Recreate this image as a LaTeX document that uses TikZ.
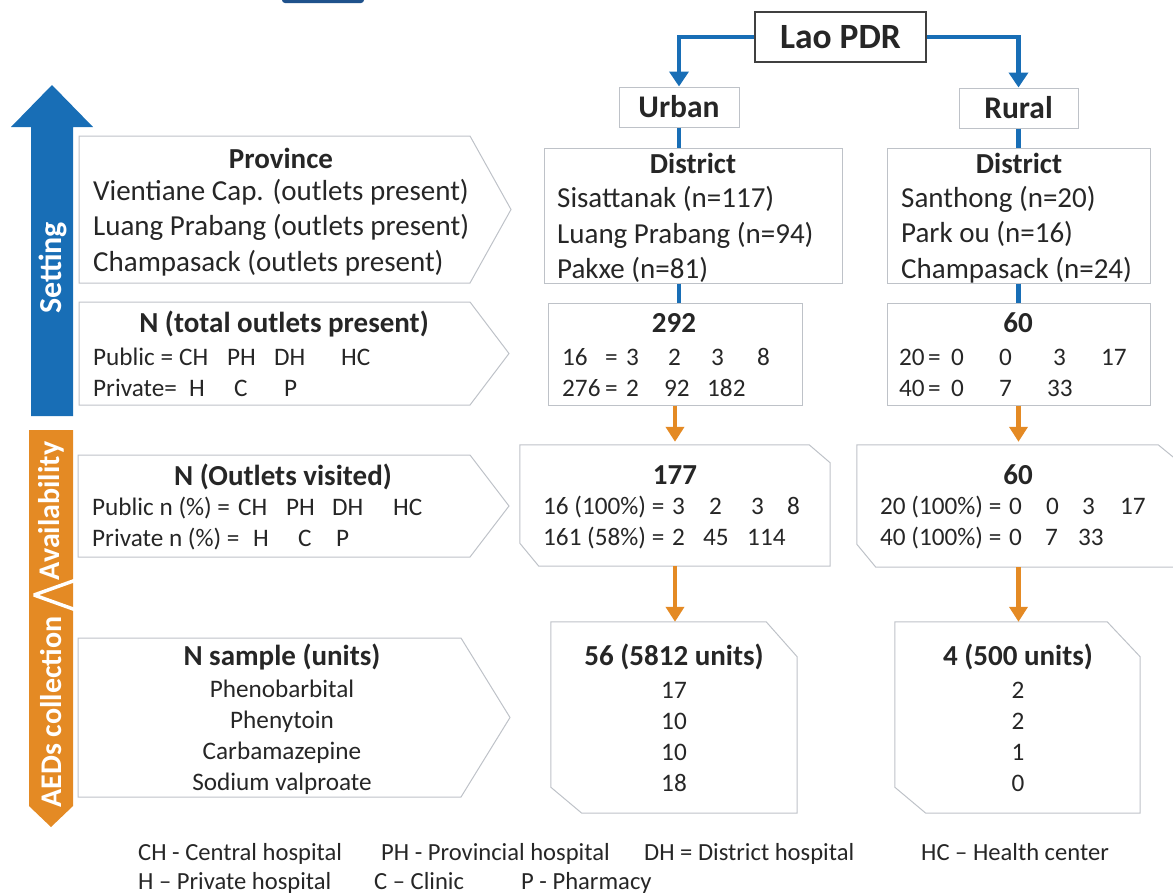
\documentclass[tikz,border=0pt]{standalone}
\usepackage{fontspec}
\setmainfont{Carlito}
\usepackage{tikz}
\usetikzlibrary{arrows.meta}
\usetikzlibrary{calc}

\definecolor{settingblue}{RGB}{24,110,182}
\definecolor{aedorange}{RGB}{228,138,36}
\definecolor{headblue}{RGB}{31,82,140}
\definecolor{boxgray}{RGB}{190,194,200}
\definecolor{txtgray}{RGB}{38,38,38}

% one column of a row of counts, #1 wide in pt
\newcommand{\colbox}[2]{\makebox[#1pt][l]{#2}}

\tikzset{
  rectbox/.style={draw=boxgray, line width=1pt, inner sep=0pt, text=txtgray},
  snipbox/.style={inner sep=0pt},
  outline/.style={draw=boxgray, line width=1pt},
  bluelink/.style={draw=settingblue, line width=4.5pt, -{Triangle[width=19pt,length=15pt]}},
  plainlink/.style={draw=settingblue, line width=4.5pt},
  orangelink/.style={draw=aedorange, line width=4.5pt, -{Triangle[width=18pt,length=15pt]}},
  headtxt/.style={font=\bfseries\fontsize{29}{34}\selectfont, text=txtgray, inner sep=0pt},
  bigtxt/.style={font=\fontsize{29}{35.5}\selectfont, text=txtgray, align=left, anchor=west, inner sep=0pt},
  smalltxt/.style={font=\fontsize{25.2}{31}\selectfont, text=txtgray, align=left, anchor=west, inner sep=0pt},
  listtxt/.style={font=\fontsize{25.2}{31}\selectfont, text=txtgray, align=center, inner sep=0pt},
  bartxt/.style={font=\bfseries\fontsize{30}{30}\selectfont, text=white, rotate=90, inner sep=0pt},
  foottxt/.style={font=\fontsize{24.6}{30}\selectfont, text=txtgray, anchor=base west, inner sep=0pt}
}

\begin{document}
\begin{tikzpicture}[x=1pt,y=-1pt]
\useasboundingbox (0,0) rectangle (1173,895);

% tab of the heading, cut at the top
\fill[headblue, rounded corners=3pt] (282,-12) rectangle (364,3);

% stage bars on the left
\fill[settingblue] (31,416) -- (31,127) -- (11,127) -- (52,85) -- (93,127)
  -- (73,127) -- (73,416) -- cycle;
\node[bartxt, font=\bfseries\fontsize{32}{32}\selectfont] (setting) at (53,268) {Setting};

\fill[aedorange] (29,430) -- (73,430) -- (73,806) -- (51,827) -- (29,806) -- cycle;
\draw[white, line width=3.5pt, line join=bevel] (76,580) -- (34,595) -- (76,610);
\node[bartxt] (avail) at (51,511) {Availability};
\node[bartxt] (aeds) at (51,712) {AEDs collection};

% pentagons of the left column
\draw[outline] (79,136) -- (470,136) -- (511,209.5) -- (470,283) -- (79,283) -- cycle;
\draw[outline] (79,302) -- (470,302) -- (509,353.5) -- (470,405) -- (79,405) -- cycle;
\draw[outline] (78,455) -- (470,455) -- (509,506) -- (470,557) -- (78,557) -- cycle;
\draw[outline] (78,638) -- (461,638) -- (510,717.5) -- (461,797) -- (78,797) -- cycle;

\node[headtxt] (province) at (281,158) {Province};
\node[bigtxt] (provlist) at (93,227.5) {Vientiane Cap. (outlets present)\\Luang Prabang (outlets present)\\Champasack (outlets present)};

\node[headtxt] (totalhead) at (284,324) {N (total outlets present)};
\node[smalltxt] (totalcodes) at (93,372) {\colbox{86}{Public =}\colbox{48}{CH}\colbox{47}{PH}\colbox{67}{DH}HC\\
  \colbox{96}{Private=}\colbox{45}{H}\colbox{50}{C}P};

\node[headtxt] (visithead) at (283,477) {N (Outlets visited)};
\node[smalltxt] (visitcodes) at (92,524) {\colbox{146}{Public n (\%) =}\colbox{48}{CH}\colbox{46}{PH}\colbox{61}{DH}HC\\
  \colbox{161}{Private n (\%) =}\colbox{45}{H}\colbox{38}{C}P};

\node[headtxt] (samplehead) at (282,657) {N sample (units)};
\node[listtxt] (druglist) at (282,737) {Phenobarbital\\Phenytoin\\Carbamazepine\\Sodium valproate};

% tree on the right
\node[rectbox, draw=black!75, line width=2pt, minimum width=171pt, minimum height=50pt,
  font=\bfseries\fontsize{35.5}{40}\selectfont] (lao) at (840.5,37) {Lao PDR};
\node[rectbox, minimum width=120pt, minimum height=40pt,
  font=\bfseries\fontsize{31.5}{36}\selectfont] (urban) at (679,107) {Urban};
\node[rectbox, minimum width=119pt, minimum height=40pt,
  font=\bfseries\fontsize{31.5}{36}\selectfont] (rural) at (1018.5,108) {Rural};

\node[rectbox, minimum width=298pt, minimum height=135pt] (urbdist) at (693,215.5) {};
\node[rectbox, minimum width=263pt, minimum height=135pt] (rurdist) at (1018.5,215.5) {};
\node[rectbox, minimum width=254pt, minimum height=102pt] (urbtot) at (675,354) {};
\node[rectbox, minimum width=263pt, minimum height=102pt] (rurtot) at (1018.5,354) {};

\node[snipbox, minimum width=310pt, minimum height=121pt] (urbvis) at (675,505.5) {};
\node[snipbox, minimum width=323pt, minimum height=122pt] (rurvis) at (1018.5,506) {};
\node[snipbox, minimum width=246pt, minimum height=191pt] (urbsam) at (674,717.5) {};
\node[snipbox, minimum width=245pt, minimum height=191pt] (rursam) at (1017.5,717.5) {};

\draw[outline] (urbvis.north west) -- ([xshift=-21pt]urbvis.north east)
  -- ([yshift=-18pt]urbvis.north east) -- (urbvis.south east)
  -- ([xshift=19pt]urbvis.south west) -- ([yshift=23pt]urbvis.south west) -- cycle;
\draw[outline] (rurvis.north west) -- ([xshift=-22pt]rurvis.north east)
  -- ([yshift=-18pt]rurvis.north east) -- (rurvis.south east)
  -- ([xshift=19pt]rurvis.south west) -- ([yshift=23pt]rurvis.south west) -- cycle;
\draw[outline] (urbsam.north west) -- ([xshift=-31pt]urbsam.north east)
  -- ([yshift=-35pt]urbsam.north east) -- (urbsam.south east)
  -- ([xshift=31pt]urbsam.south west) -- ([yshift=26pt]urbsam.south west) -- cycle;
\draw[outline] (rursam.north west) -- ([xshift=-33pt]rursam.north east)
  -- ([yshift=-35pt]rursam.north east) -- (rursam.south east)
  -- ([xshift=31pt]rursam.south west) -- ([yshift=26pt]rursam.south west) -- cycle;

\draw[bluelink] (lao.west) -| (urban.north);
\draw[bluelink] (lao.east) -| (rural.north);
\draw[plainlink] (urban.south) -- (urban.south |- urbdist.north);
\draw[plainlink] (rural.south) -- (rural.south |- rurdist.north);
\draw[plainlink] (urbdist.south -| urban.south) -- (urbtot.north -| urban.south);
\draw[plainlink] (rurdist.south -| rural.south) -- (rurtot.north -| rural.south);
\draw[orangelink, shorten >=3pt] (urbtot.south) -- (urbtot.south |- urbvis.north);
\draw[orangelink, shorten >=3pt] (rurtot.south) -- (rurtot.south |- rurvis.north);
\draw[orangelink] (urbvis.south) -- (urbvis.south |- urbsam.north);
\draw[orangelink] (rurvis.south) -- (rurvis.south |- rursam.north);

\node[headtxt] (urbdisthead) at (693,163) {District};
\node[bigtxt] (urbdistlist) at (557,234.5) {Sisattanak (n=117)\\Luang Prabang (n=94)\\Pakxe (n=81)};
\node[headtxt] (rurdisthead) at (1019,163) {District};
\node[bigtxt] (rurdistlist) at (901,234.5) {Santhong (n=20)\\Park ou (n=16)\\Champasack (n=24)};

\node[headtxt] (urbtotnum) at (674,323) {292};
\node[smalltxt] (urbtotrows) at (562,372.5) {\colbox{43}{16}\colbox{21}{=}\colbox{42}{3}\colbox{43}{2}\colbox{46}{3}8\\
  \colbox{43}{276}\colbox{21}{=}\colbox{38}{2}\colbox{43}{92}182};
\node[headtxt] (rurtotnum) at (1018,323) {60};
\node[smalltxt] (rurtotrows) at (899,372.5) {\colbox{29}{20}\colbox{23}{=}\colbox{48}{0}\colbox{54}{0}\colbox{48}{3}17\\
  \colbox{29}{40}\colbox{23}{=}\colbox{48}{0}\colbox{48}{7}33};

\node[headtxt] (urbvisnum) at (675,475) {177};
\node[smalltxt] (urbvisrows) at (543,523) {\colbox{129}{16 (100\%) =}\colbox{37}{3}\colbox{42}{2}\colbox{36}{3}8\\
  \colbox{129}{161 (58\%) =}\colbox{31}{2}\colbox{44}{45}114};
\node[headtxt] (rurvisnum) at (1018,475) {60};
\node[smalltxt] (rurvisrows) at (880,523) {\colbox{129}{20 (100\%) =}\colbox{37}{0}\colbox{36}{0}\colbox{38}{3}17\\
  \colbox{129}{40 (100\%) =}\colbox{36}{0}\colbox{33}{7}33};

\node[headtxt] (urbsamhead) at (674,657) {56 (5812 units)};
\node[listtxt] (urbsamlist) at (674,737) {17\\10\\10\\18};
\node[headtxt] (rursamhead) at (1018,657) {4 (500 units)};
\node[listtxt] (rursamlist) at (1018,737) {2\\2\\1\\0};

% key to the abbreviations
\node[foottxt] (keych) at (138,860) {CH - Central hospital};
\node[foottxt] (keyph) at (381,860) {PH - Provincial hospital};
\node[foottxt] (keydh) at (644,860) {DH = District hospital};
\node[foottxt] (keyhc) at (921,860) {HC – Health center};
\node[foottxt] (keyh) at (138,889) {H – Private hospital};
\node[foottxt] (keyc) at (374,889) {C – Clinic};
\node[foottxt] (keyp) at (521,889) {P - Pharmacy};
\end{tikzpicture}
\end{document}
